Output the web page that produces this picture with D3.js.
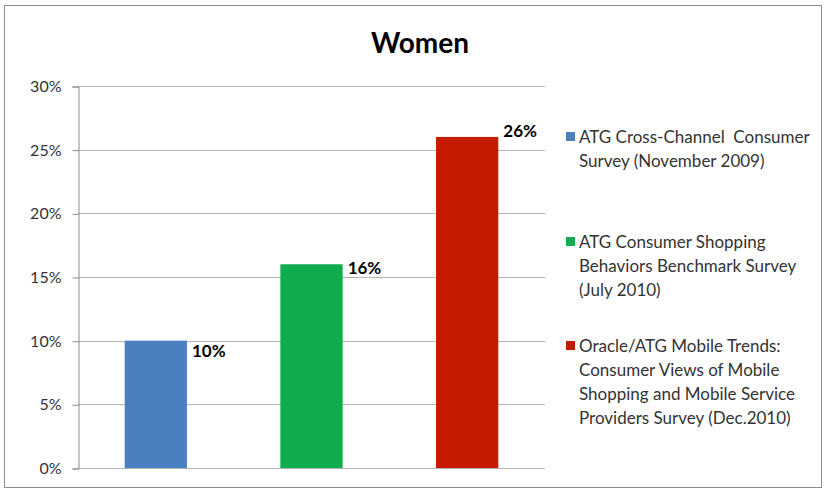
<!DOCTYPE html>
<html>
<head>
<meta charset="utf-8">
<script src="https://cdn.jsdelivr.net/npm/d3@7"></script>
<style>
  body { margin: 0; background: #fff; }
  svg text { font-family: Lato, "Open Sans", sans-serif; white-space: pre; }
</style>
</head>
<body>
<svg id="chart" width="824" height="489"></svg>
<script>
const series = ['nov2009', 'jul2010', 'dec2010']
const values = [10, 16, 26]
const colors = ['#4a80c0', '#10ad4e', '#c41a00']
const legend_lines = [
  ['ATG Cross-Channel  Consumer', 'Survey (November 2009)'],
  ['ATG Consumer Shopping', 'Behaviors Benchmark Survey', '(July 2010)'],
  ['Oracle/ATG Mobile Trends:', 'Consumer Views of Mobile', 'Shopping and Mobile Service', 'Providers Survey (Dec.2010)']
]
const y_ticks = [0, 5, 10, 15, 20, 25, 30]
const title = 'Women'

const svg = d3.select('#chart')

// outer frame
svg.append('rect')
  .attr('x', 4.5).attr('y', 5.5)
  .attr('width', 817).attr('height', 482)
  .attr('fill', '#fff')
  .attr('stroke', '#8c8c8c')
  .attr('stroke-width', 1)

svg.append('text')
  .attr('x', 420).attr('y', 53)
  .attr('text-anchor', 'middle')
  .attr('font-size', 28)
  .attr('font-weight', 'bold')
  .text(title)

const plot = { left: 78, right: 545, top: 86, bottom: 468 }

const x = d3.scaleBand()
  .domain(series)
  .range([plot.left, plot.right])

const y = d3.scaleLinear()
  .domain([0, 30])
  .range([plot.bottom, plot.top])

// gridlines
svg.append('g')
  .selectAll('line')
  .data(y_ticks)
  .enter()
    .append('line')
    .attr('x1', plot.left)
    .attr('x2', plot.right)
    .attr('y1', d => Math.round(y(d)) + 0.5)
    .attr('y2', d => Math.round(y(d)) + 0.5)
    .attr('stroke', '#b4b4b4')

// y axis
const y_axis = svg.append('g')
  .attr('transform', `translate(${plot.left + 0.5},0.5)`)
  .call(d3.axisLeft(y).tickValues(y_ticks).tickSize(6).tickPadding(11).tickFormat(d => d + '%'))
y_axis.select('.domain').attr('stroke', '#8c8c8c')
y_axis.selectAll('.tick line').attr('stroke', '#8c8c8c')
y_axis.selectAll('.tick text')
  .attr('font-size', 16)
  .attr('fill', '#333')
  .style('font-family', 'Lato, sans-serif')

// bars
const bar_w = x.bandwidth() * 0.4
svg.selectAll('.bar')
  .data(values)
  .enter()
    .append('rect')
    .attr('class', 'bar')
    .attr('x', (d, i) => x(series[i]) + (x.bandwidth() - bar_w) / 2)
    .attr('y', d => y(d))
    .attr('width', bar_w)
    .attr('height', d => y(0) - y(d))
    .attr('fill', (d, i) => colors[i])

// value labels
svg.selectAll('.val')
  .data(values)
  .enter()
    .append('text')
    .attr('class', 'val')
    .attr('x', (d, i) => x(series[i]) + (x.bandwidth() + bar_w) / 2 + 5)
    .attr('y', d => y(d) + (20 - d))
    .attr('dy', '0.35em')
    .attr('font-size', 17)
    .attr('font-weight', 'bold')
    .text(d => d + '%')

// legend
const legend_top = [137, 242, 346]
const legend = svg.selectAll('.legend')
  .data(legend_lines)
  .enter()
    .append('g')
    .attr('class', 'legend')
    .attr('transform', (d, i) => `translate(566,${legend_top[i]})`)

legend.append('rect')
  .attr('x', 0).attr('y', -5)
  .attr('width', 9).attr('height', 9)
  .attr('fill', (d, i) => colors[i])

legend.append('text')
  .attr('font-size', 17)
  .attr('fill', '#333')
  .selectAll('tspan')
  .data(d => d)
  .enter()
    .append('tspan')
    .attr('x', 13)
    .attr('y', (d, i) => i * 24)
    .attr('dy', '0.35em')
    .text(d => d)
</script>
</body>
</html>
